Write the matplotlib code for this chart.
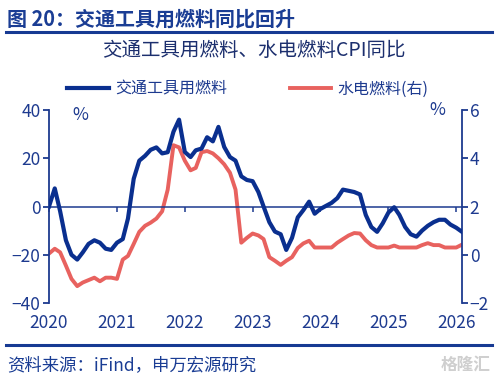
import matplotlib
matplotlib.use("Agg")
import matplotlib.pyplot as plt
import matplotlib.dates as mdates
import pandas as pd

plt.rcParams['font.family'] = ['Noto Sans CJK SC', 'DejaVu Sans']

# monthly data, 2020-01 .. 2026-02
months = pd.date_range('2020-01-01', periods=74, freq='MS')

# 交通工具用燃料 CPI 同比 (%), left axis
fuel = [0, 7.5, -2, -14, -20, -22, -19, -15.5, -14, -15, -17.5, -18,
        -15, -13.5, -5, 11.5, 19, 21, 23.5, 24.5, 22, 22.5, 31, 36,
        22.6, 20.5, 23.3, 24, 28.7, 27, 33, 24.7, 20.5, 19, 12.5, 11,
        10.5, 6, 0, -6.5, -10.4, -11.5, -18, -13, -4.5, -1.5, 2, -3,
        -1, 0.3, 1.5, 3.5, 7, 6.5, 6, 5, -3.5, -8.5, -10.5, -7,
        -2.5, -0.3, -3.5, -8.5, -11.5, -12.5, -10, -8, -6.5, -5.5, -5.5, -7.5,
        -8.8, -10.5]

# 水电燃料 CPI 同比 (%), right axis
utility = [0.05, 0.25, 0.1, -0.45, -1.0, -1.3, -1.15, -1.05, -0.95, -1.1, -0.95, -0.95,
           -1.0, -0.2, -0.05, 0.45, 0.95, 1.2, 1.33, 1.5, 1.8, 2.7, 4.54, 4.45,
           3.9, 3.5, 3.6, 4.25, 4.3, 4.2, 4.0, 3.75, 3.4, 2.7, 0.5, 0.7,
           0.88, 0.8, 0.65, -0.1, -0.25, -0.42, -0.25, -0.1, 0.28, 0.47, 0.58, 0.3,
           0.3, 0.3, 0.3, 0.5, 0.65, 0.8, 0.9, 0.88, 0.6, 0.4, 0.3, 0.3,
           0.3, 0.38, 0.3, 0.3, 0.3, 0.3, 0.4, 0.48, 0.4, 0.4, 0.3, 0.3,
           0.3, 0.42]

year_ticks = pd.date_range('2020-01-01', '2026-01-01', freq='YS')
left_ticks = [-40, -20, 0, 20, 40]
right_ticks = [-2, 0, 2, 4, 6]

NAVY = '#1d3a8f'
BLUE = '#0a2f8f'
RED = '#e8625f'

fig = plt.figure(figsize=(4.98, 3.84), dpi=100)
ax = fig.add_axes([49 / 498, 1 - 303 / 384, 413 / 498, 193 / 384])
ax2 = ax.twinx()

l1, = ax.plot(months, fuel, color=BLUE, lw=3.0, solid_joinstyle='round', zorder=3)
l2, = ax2.plot(months, utility, color=RED, lw=2.8, solid_joinstyle='round', zorder=2)
ax.set_zorder(ax2.get_zorder() + 1)
ax.patch.set_visible(False)

ax.set_xlim(months[0], months[-1])
ax.set_ylim(-40, 40)
ax2.set_ylim(-2, 6)
ax.set_yticks(left_ticks)
ax2.set_yticks(right_ticks)
ax.set_xticks(year_ticks)
ax.xaxis.set_major_formatter(mdates.DateFormatter('%Y'))

# spines
for a in (ax, ax2):
    for s in a.spines.values():
        s.set_visible(False)
ax.spines['left'].set_visible(True)
ax.spines['left'].set_color(NAVY)
ax.spines['left'].set_linewidth(1.3)
ax2.spines['right'].set_visible(True)
ax2.spines['right'].set_color(NAVY)
ax2.spines['right'].set_linewidth(1.3)
ax.spines['bottom'].set_visible(True)
ax.spines['bottom'].set_position(('data', 0))
ax.spines['bottom'].set_color(NAVY)
ax.spines['bottom'].set_linewidth(1.1)

ax.tick_params(axis='y', colors=NAVY, labelsize=12.5, length=4.5, width=1.3, pad=1.5)
ax2.tick_params(axis='y', colors=NAVY, labelsize=12.5, length=4, width=1.3, pad=1.5)
ax.tick_params(axis='x', colors=NAVY, labelsize=12.5, length=3.5, width=1.1, pad=74)

ax.text(0.075, 0.975, '%', transform=ax.transAxes, color=NAVY, fontsize=12.5,
        ha='center', va='center')
ax2.text(0.94, 1.0, '%', transform=ax2.transAxes, color=NAVY, fontsize=12.5,
         ha='center', va='center')

fig.legend([l1, l2], ['交通工具用燃料', '水电燃料(右)'], loc='center',
           bbox_to_anchor=(0.498, 1 - 89 / 384), ncol=2, frameon=False,
           fontsize=11.5, labelcolor=NAVY, handlelength=2.6, handletextpad=0.4,
           columnspacing=3.9)

# header / footer
fig.text(0.014, 1 - 19 / 384, '图 20：交通工具用燃料同比回升', fontsize=14.4,
         fontweight='bold', color='#1a3d94', va='center', ha='left')
fig.add_artist(plt.Line2D([0.012, 0.988], [1 - 32 / 384] * 2, color='#173a93', lw=2.2))
fig.text(0.51, 1 - 50 / 384, '交通工具用燃料、水电燃料CPI同比', fontsize=14,
         color='#1c2f6e', va='center', ha='center')
fig.add_artist(plt.Line2D([0.012, 0.988], [1 - 345 / 384] * 2, color='#173a93', lw=2.2))
fig.text(0.014, 1 - 365 / 384, '资料来源：iFind，申万宏源研究', fontsize=12.5,
         color='#1a3d94', va='center', ha='left')
fig.text(0.985, 1 - 365 / 384, '格隆汇', fontsize=12, color='#cfcfcf',
         fontweight='bold', va='center', ha='right')

fig.savefig('out.png', dpi=100)
